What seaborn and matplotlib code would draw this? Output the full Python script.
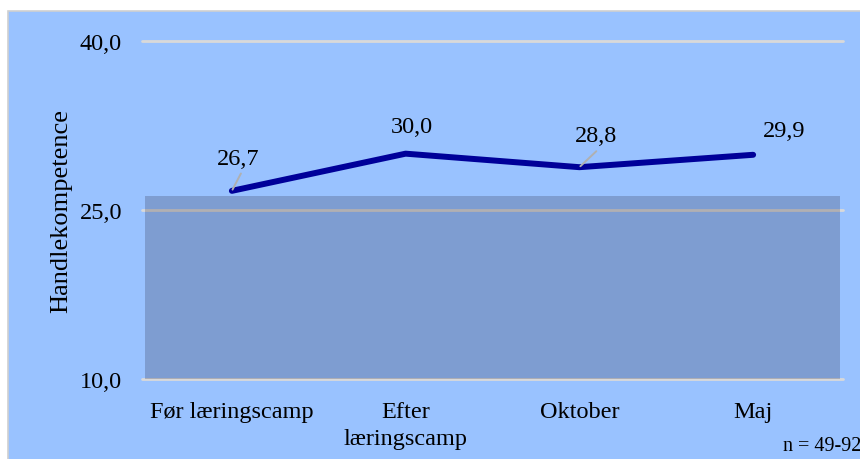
import matplotlib
matplotlib.use("Agg")
import matplotlib.pyplot as plt
import seaborn as sns
import pandas as pd
from matplotlib.patches import Rectangle
from matplotlib.ticker import FuncFormatter

categories = ["Før læringscamp", "Efter\nlæringscamp", "Oktober", "Maj"]
values = [26.7, 30.0, 28.8, 29.9]
band_top = 26.2
yticks = [10, 25, 40]
note = "n = 49-92"
ylabel = "Handlekompetence"

sns.set_theme(style="white")
plt.rcParams["font.family"] = ["Liberation Serif", "DejaVu Serif"]
plt.rcParams["text.color"] = "black"
plt.rcParams["xtick.color"] = "black"
plt.rcParams["ytick.color"] = "black"
plt.rcParams["axes.labelcolor"] = "black"

BG = "#99C2FF"
BAND = (20/255, 12/255, 25/255)
LINE = "#000099"

fig = plt.figure(figsize=(8.6, 4.6), dpi=100, facecolor="white")
bgrect = Rectangle((8/860, -0.05), 1.1, 1.05 - 12/460, transform=fig.transFigure,
                   facecolor=BG, edgecolor="#D0D0D0", linewidth=1.2, zorder=-10)
fig.add_artist(bgrect)
ax = fig.add_axes([145/860, 80/460, 695/860, 338/460])
ax.set_zorder(1)
ax.set_facecolor(BG)

df = pd.DataFrame({"kat": categories, "val": values})
for t in yticks:
    ax.axhline(t, xmin=-3/695, xmax=1 + 3/695, color="#D9D9D9", linewidth=2,
               zorder=0.5, clip_on=False)
ax.axhspan(10, band_top, color=BAND, alpha=0.2, zorder=1, linewidth=0)
sns.lineplot(data=df, x="kat", y="val", sort=False, ax=ax, color=LINE,
             linewidth=4.3, solid_capstyle="round", zorder=3)

ax.set_xlim(-0.5, len(categories) - 0.5)
ax.set_ylim(10, 40)
ax.set_yticks(yticks)
ax.yaxis.set_major_formatter(FuncFormatter(lambda v, p: f"{v:.1f}".replace(".", ",")))
ax.tick_params(axis="y", labelsize=17.5, pad=16.5, length=0)
ax.tick_params(axis="x", labelsize=17.5, pad=16, length=0)
for lbl in ax.get_xticklabels():
    lbl.set_linespacing(1.35)
ax.set_xlabel("")
ax.set_ylabel(ylabel, fontsize=19, labelpad=5)
for s in ax.spines.values():
    s.set_visible(False)

# data labels: (dx, dy) text offsets in points, optional leader end offset
offsets = [(4.3, 23.5, (6.5, 12.5)), (4.3, 19.5, None),
           (12.2, 22.5, (12.2, 11.5)), (22, 17.5, None)]
for i, (v, (dx, dy, lead)) in enumerate(zip(values, offsets)):
    lab = f"{v:.1f}".replace(".", ",")
    ax.annotate(lab, (i, v), xytext=(dx, dy), textcoords="offset points",
                ha="center", va="center", fontsize=17.5, zorder=5)
    if lead is not None:
        ax.annotate("", (i, v), xytext=lead, textcoords="offset points", zorder=4,
                    arrowprops=dict(arrowstyle="-", color="#B0B0B0", lw=1.4,
                                    shrinkA=0, shrinkB=1))

fig.text(783/860, 4/460, note, fontsize=14.5, ha="left", va="bottom", zorder=5)

fig.savefig("out.png", dpi=100, facecolor=fig.get_facecolor())
